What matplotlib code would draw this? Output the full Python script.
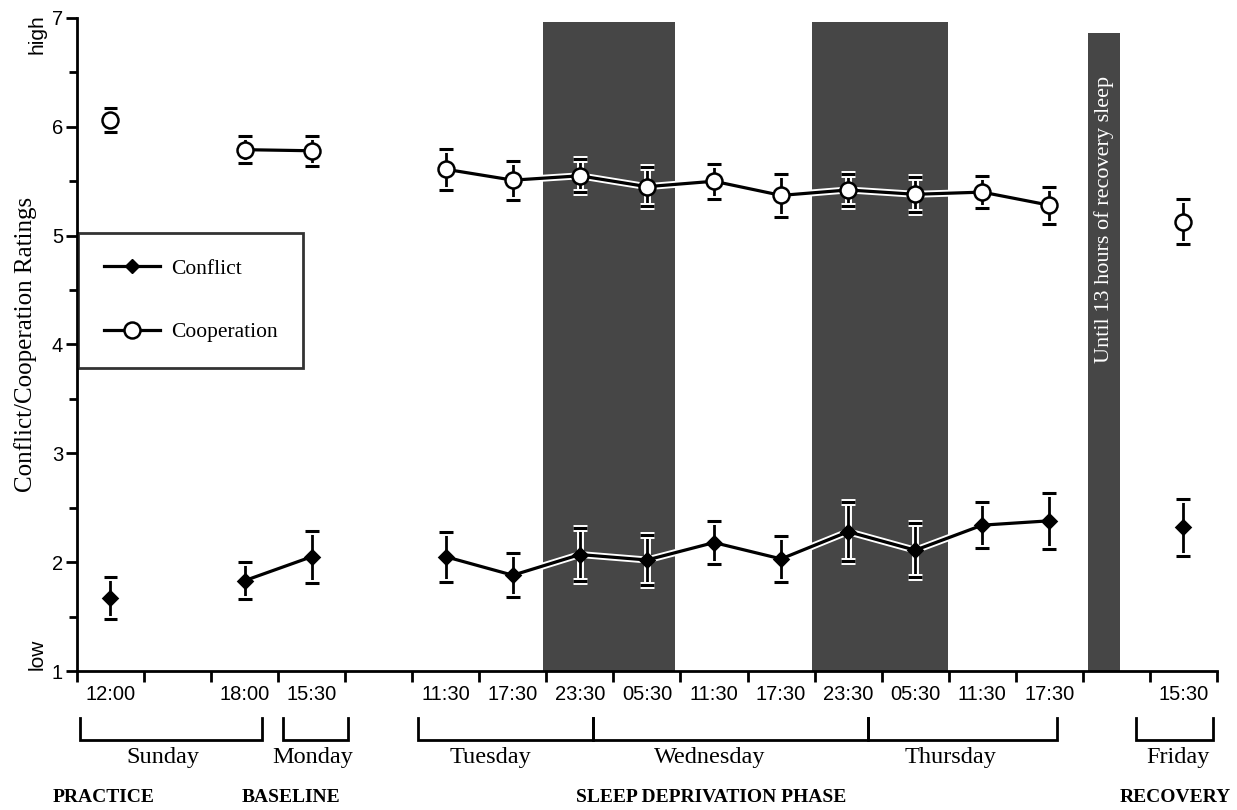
import matplotlib
matplotlib.use('Agg')
import matplotlib.pyplot as plt
import matplotlib.patheffects as pe
from matplotlib.lines import Line2D
from matplotlib.transforms import blended_transform_factory

# session slots along the x axis (one slot per 6 h block)
slot_labels = ['12:00', '', '18:00', '15:30', '', '11:30', '17:30', '23:30', '05:30',
               '11:30', '17:30', '23:30', '05:30', '11:30', '17:30', '', '15:30']

session_slot = [0, 2, 3, 5, 6, 7, 8, 9, 10, 11, 12, 13, 14, 16]

coop_mean = [6.06, 5.79, 5.78, 5.61, 5.51, 5.55, 5.45, 5.50, 5.37, 5.42, 5.38, 5.40, 5.28, 5.13]
coop_err = [0.11, 0.125, 0.14, 0.19, 0.18, 0.15, 0.18, 0.16, 0.20, 0.15, 0.16, 0.15, 0.17, 0.21]

conflict_mean = [1.67, 1.83, 2.05, 2.05, 1.88, 2.07, 2.02, 2.18, 2.03, 2.28, 2.11, 2.34, 2.38, 2.32]
conflict_err = [0.19, 0.17, 0.24, 0.23, 0.20, 0.24, 0.23, 0.20, 0.21, 0.27, 0.25, 0.21, 0.26, 0.26]

# which sessions are joined by a line
connected = [[0], [1, 2], [3, 4, 5, 6, 7, 8, 9, 10, 11, 12], [13]]

# night-time / recovery sleep periods (slot start, slot end, top rating)
sleep_bands = [(6.45, 8.42, 6.96), (10.46, 12.49, 6.96), (14.58, 15.05, 6.86)]

# day brackets (slot start, slot end) and day names
day_names = ['Sunday', 'Monday', 'Tuesday', 'Wednesday', 'Thursday', 'Friday']
day_spans = [(-0.45, 2.26), (2.57, 3.54), (4.59, 7.19), (7.19, 11.3), (11.3, 14.11), (15.3, 16.44)]
day_label_x = [0.78, 3.02, 5.66, 8.94, 12.52, 15.92]

phase_names = ['PRACTICE', 'BASELINE', 'SLEEP DEPRIVATION PHASE', 'RECOVERY']
phase_x = [-0.11, 2.69, 8.95, 15.87]

serif = 'Liberation Serif'
sans = 'Liberation Sans'

fig = plt.figure(figsize=(12.37, 8.1), dpi=100)
ax = fig.add_axes([0.0622, 0.1716, 0.9216, 0.8062])
ax.set_xlim(-0.5, 16.5)
ax.set_ylim(1, 7)

for x0, x1, top in sleep_bands:
    ax.axvspan(x0, x1, ymin=0, ymax=(top - 1) / 6, color='#464646', lw=0, zorder=1)

halo = [pe.Stroke(linewidth=5, foreground='white'), pe.Normal()]

def draw_series(mean, err, marker, mfc, ms):
    eb = ax.errorbar(session_slot, mean, yerr=err, fmt='none', ecolor='black',
                     elinewidth=2, capsize=5, capthick=2.2, zorder=3)
    for c in eb.lines[1]:
        c.set_path_effects(halo)
    for c in eb.lines[2]:
        c.set_path_effects(halo)
    for grp in connected:
        xs = [session_slot[i] for i in grp]
        ys = [mean[i] for i in grp]
        ax.plot(xs, ys, color='black', lw=2.3, zorder=4, path_effects=halo)
    ax.plot(session_slot, mean, ls='none', marker=marker, mfc=mfc, mec='black',
            ms=ms, mew=1.8, zorder=5)

draw_series(conflict_mean, conflict_err, 'D', 'black', 7)
draw_series(coop_mean, coop_err, 'o', 'white', 11.5)

ax.text(14.815, 5.15, 'Until 13 hours of recovery sleep', rotation=90, color='white',
        ha='center', va='center', fontsize=16, family=serif, zorder=2)

# axes styling
for s in ['top', 'right']:
    ax.spines[s].set_visible(False)
for s in ['left', 'bottom']:
    ax.spines[s].set_linewidth(2)

ax.set_yticks(range(1, 8))
ax.set_yticks([1.5, 2.5, 3.5, 4.5, 5.5, 6.5], minor=True)
ax.tick_params(axis='y', which='major', length=8, width=2, labelsize=14.5, pad=2)
ax.tick_params(axis='y', which='minor', length=6, width=2)
for t in ax.get_yticklabels():
    t.set_family(sans)

ax.set_xticks([i - 0.5 for i in range(len(slot_labels) + 1)])
ax.set_xticklabels([])
ax.tick_params(axis='x', which='major', length=8, width=2)
lab_pos = [i for i, l in enumerate(slot_labels) if l]
ax.set_xticks(lab_pos, minor=True)
ax.set_xticklabels([slot_labels[i] for i in lab_pos], minor=True, family=sans, fontsize=14.5)
ax.tick_params(axis='x', which='minor', length=0, pad=10)

ax.set_ylabel('Conflict/Cooperation Ratings', family=serif, fontsize=18)
ax.yaxis.set_label_coords(-0.035, 0.5)
ax.text(-0.035, 0.975, 'high', transform=ax.transAxes, rotation=90, ha='center',
        va='center', family=sans, fontsize=15)
ax.text(-0.035, 0.025, 'low', transform=ax.transAxes, rotation=90, ha='center',
        va='center', family=sans, fontsize=15)

# day brackets and phase names under the axis
tr = blended_transform_factory(ax.transData, ax.transAxes)
y_top, y_bot = -0.072, -0.106
for (x0, x1) in day_spans:
    ax.plot([x0, x0, x1, x1], [y_top, y_bot, y_bot, y_top], color='black', lw=2,
            transform=tr, clip_on=False, solid_joinstyle='miter')
for name, x in zip(day_names, day_label_x):
    ax.text(x, -0.133, name, transform=tr, ha='center', va='center',
            family=serif, fontsize=17.5)
for name, x in zip(phase_names, phase_x):
    ax.text(x, -0.193, name, transform=tr, ha='center', va='center',
            family=serif, fontsize=14, fontweight='bold')

handles = [Line2D([], [], color='black', lw=2.3, marker='D', mfc='black', mec='black', ms=7),
           Line2D([], [], color='black', lw=2.3, marker='o', mfc='white', mec='black', ms=11.5, mew=1.8)]
leg = ax.legend(handles, ['Conflict', 'Cooperation'], loc='upper left',
                bbox_to_anchor=(0.001, 0.6707), bbox_transform=ax.transAxes,
                borderaxespad=0, borderpad=1.2, labelspacing=2.0, handlelength=2.6,
                handletextpad=0.5, fancybox=False, prop={'family': serif, 'size': 15.5})
leg.get_frame().set_edgecolor('black')
leg.get_frame().set_linewidth(2)
leg.set_zorder(6)

fig.savefig('out.png', dpi=100)
